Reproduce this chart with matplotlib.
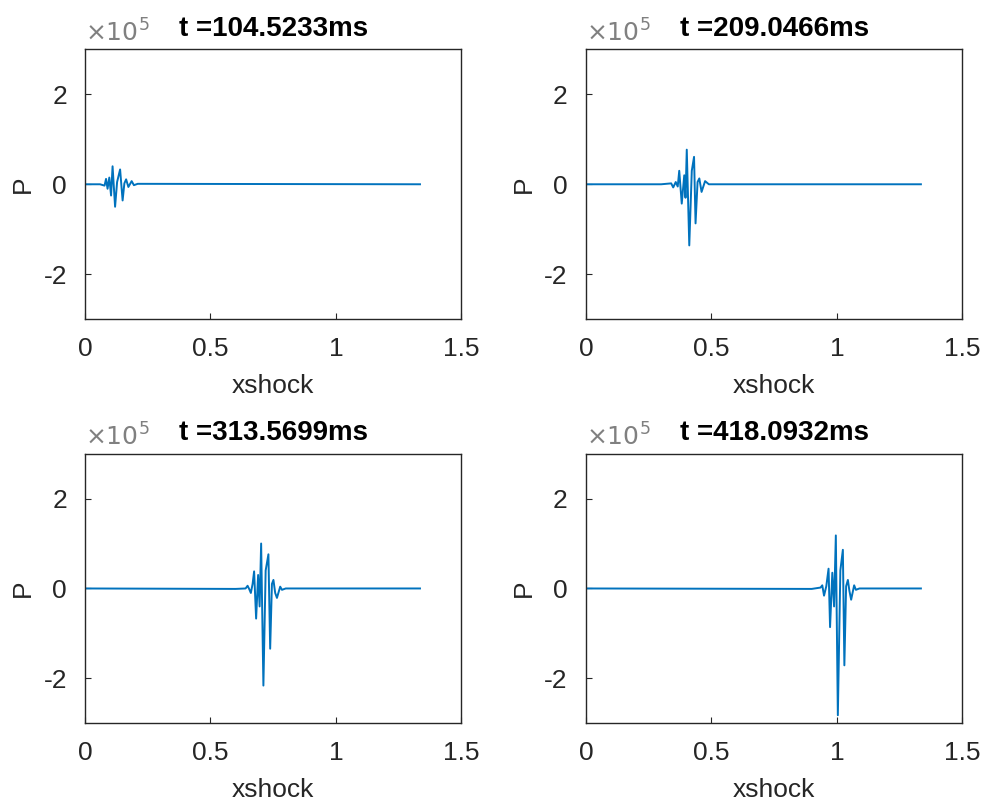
import matplotlib
matplotlib.use("Agg")
import matplotlib.pyplot as plt

# snapshot times (ms)
times = ["104.5233", "209.0466", "313.5699", "418.0932"]

# shock position and pressure (x 1e5) for each snapshot
p1_x = [0.000, 0.060, 0.078, 0.084, 0.090, 0.097, 0.104, 0.110, 0.120, 0.128, 0.140, 0.150,
        0.157, 0.164, 0.173, 0.186, 0.195, 0.210, 1.335]
p1_p = [0.00, 0.00, -0.03, 0.12, -0.10, 0.15, -0.25, 0.40, -0.50, 0.05, 0.33, -0.36,
        0.02, 0.11, -0.06, 0.07, -0.02, 0.01, 0.00]

p2_x = [0.000, 0.300, 0.340, 0.348, 0.358, 0.366, 0.372, 0.382, 0.392, 0.397, 0.402, 0.412,
        0.422, 0.431, 0.437, 0.445, 0.452, 0.461, 0.475, 0.490, 1.335]
p2_p = [0.00, 0.00, 0.02, -0.07, 0.05, -0.05, 0.30, -0.43, 0.20, -0.30, 0.77, -1.36,
        0.30, 0.61, -0.87, 0.05, 0.13, -0.17, 0.07, 0.00, 0.00]

p3_x = [0.000, 0.600, 0.640, 0.648, 0.655, 0.661, 0.668, 0.674, 0.682, 0.690, 0.696, 0.702,
        0.711, 0.720, 0.731, 0.738, 0.745, 0.751, 0.758, 0.765, 0.778, 0.785, 0.800, 1.335]
p3_p = [0.00, -0.01, 0.00, 0.06, -0.02, -0.10, 0.10, 0.38, -0.67, 0.30, -0.40, 1.00,
        -2.16, 0.40, 0.76, -1.34, 0.10, 0.19, -0.10, -0.21, 0.04, -0.03, 0.00, 0.00]

p4_x = [0.000, 0.900, 0.935, 0.942, 0.949, 0.958, 0.967, 0.973, 0.982, 0.989, 0.996, 1.004,
        1.014, 1.024, 1.030, 1.037, 1.044, 1.050, 1.057, 1.069, 1.076, 1.090, 1.335]
p4_p = [0.00, -0.01, 0.02, 0.07, -0.16, 0.05, 0.44, -0.86, 0.35, -0.40, 1.18, -2.82,
        0.40, 0.86, -1.71, 0.05, 0.19, -0.05, -0.25, 0.07, -0.03, 0.00, 0.00]

xs = [p1_x, p2_x, p3_x, p4_x]
ps = [p1_p, p2_p, p3_p, p4_p]

x_ticks = [0, 0.5, 1, 1.5]
x_ticklabels = ["0", "0.5", "1", "1.5"]
y_ticks = [-2, 0, 2]
y_ticklabels = ["-2", "0", "2"]

plt.rcParams["font.family"] = ["Liberation Sans", "DejaVu Sans"]
dark = "#262626"

fig = plt.figure(figsize=(9.88, 8.1), dpi=100)
lefts = [0.086, 0.593, 0.086, 0.593]
bottoms = [0.606, 0.606, 0.107, 0.107]
w, h = 0.381, 0.333

for i in range(4):
    ax = fig.add_axes([lefts[i], bottoms[i], w, h])
    ax.plot(xs[i], ps[i], color="#0072BD", linewidth=1.4)
    ax.set_xlim(0, 1.5)
    ax.set_ylim(-3, 3)
    ax.set_xticks(x_ticks)
    ax.set_xticklabels(x_ticklabels)
    ax.set_yticks(y_ticks)
    ax.set_yticklabels(y_ticklabels)
    ax.tick_params(direction="in", length=4, width=0.8, colors=dark,
                   labelsize=19, pad=13, top=False, right=False)
    for s in ax.spines.values():
        s.set_color(dark)
        s.set_linewidth(1.0)
    ax.set_xlabel("xshock", fontsize=19, color=dark, labelpad=9)
    ax.set_ylabel("P", fontsize=19, color=dark, labelpad=6)
    ax.set_title(f"t ={times[i]}ms", fontsize=20, fontweight="bold", pad=10)
    ax.text(0.0, 1.012, r"$\times10^5$", transform=ax.transAxes, fontsize=18,
            color="#808080", ha="left", va="bottom", math_fontfamily="dejavusans")

fig.savefig("out.png", dpi=100)
